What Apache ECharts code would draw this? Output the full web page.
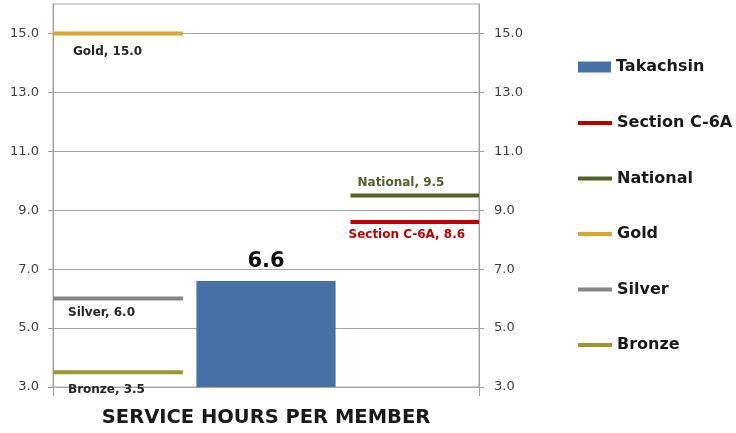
<!DOCTYPE html>
<html>
<head>
<meta charset="utf-8">
<script src="https://cdn.jsdelivr.net/npm/echarts@6/dist/echarts.min.js"></script>
<style>
  html, body { margin: 0; padding: 0; background: #fff; }
  #chart { width: 736px; height: 433px; }
</style>
</head>
<body>
<div id="chart"></div>
<script>
var categories = ['Benchmarks', 'Takachsin', 'Comparison'];
var takachsinValues = [null, 6.6, null];
var sectionValues = [null, null, 8.6];
var nationalValues = [null, null, 9.5];
var goldValues = [15.0, null, null];
var silverValues = [6.0, null, null];
var bronzeValues = [3.5, null, null];
var yTicks = [3, 5, 7, 9, 11, 13, 15];

var FONT = '"DejaVu Sans", Verdana, sans-serif';

// one short horizontal dash per benchmark, with its own label
function benchmarkSeries (name, values, color, labelColor, labelDx, labelDy) {
  return {
    name: name,
    type: 'custom',
    itemStyle: { color: color },
    data: values.map(function (v, i) { return v == null ? null : [i, v]; })
      .filter(function (d) { return d; }),
    renderItem: function (params, api) {
      var idx = api.value(0);
      var val = api.value(1);
      var pt = api.coord([idx, val]);
      var band = api.size([1, 0])[0];
      var x1, x2;
      if (idx === 0) {
        x1 = pt[0] - band / 2;
        x2 = x1 + band * 0.915;
      } else {
        x2 = pt[0] + band / 2;
        x1 = x2 - band * 0.905;
      }
      return {
        type: 'group',
        children: [
          {
            type: 'line',
            shape: { x1: x1, y1: pt[1], x2: x2, y2: pt[1] },
            style: { stroke: color, lineWidth: 4, lineCap: 'butt' }
          },
          {
            type: 'text',
            x: x1 + labelDx,
            y: pt[1] + labelDy,
            style: {
              text: name + ', ' + val.toFixed(1),
              fill: labelColor,
              fontSize: 12,
              fontWeight: 'bold',
              fontFamily: FONT,
              align: 'left',
              verticalAlign: 'middle'
            }
          }
        ]
      };
    }
  };
}

var chartDom = document.getElementById('chart');
var myChart = echarts.init(chartDom);
var option;

var yAxisBase = {
  type: 'value',
  min: 3,
  max: 16,
  interval: 2,
  axisLine: { show: true, lineStyle: { color: '#a0a0a0', width: 1 } },
  axisTick: { show: true, length: 5, customValues: yTicks, lineStyle: { color: '#a0a0a0' } },
  axisLabel: {
    customValues: yTicks,
    formatter: function (v) { return v.toFixed(1); },
    color: '#404040',
    fontSize: 13,
    fontFamily: FONT
  }
};

var legendText = { fontSize: 16, fontWeight: 'bold', fontFamily: FONT, color: '#1a1a1a', lineHeight: 20 };

option = {
  animation: false,
  grid: { left: 53, right: 257, top: 4, bottom: 46, show: true, borderColor: '#a6a6a6', borderWidth: 1 },
  legend: [
    {
      data: [{ name: 'Takachsin', icon: 'rect' }],
      left: 578,
      top: 57,
      padding: 0,
      itemWidth: 33,
      itemHeight: 11,
      textStyle: legendText
    },
    {
      data: ['Section C-6A', 'National', 'Gold', 'Silver', 'Bronze'].map(function (n) {
        return { name: n, icon: 'path://M0,0H36V4H0Z' };
      }),
      orient: 'vertical',
      left: 578,
      top: 113,
      padding: 0,
      itemGap: 35.5,
      itemWidth: 34,
      itemHeight: 4,
      textStyle: legendText
    }
  ],
  xAxis: {
    type: 'category',
    data: categories,
    name: 'SERVICE HOURS PER MEMBER',
    nameLocation: 'middle',
    nameGap: 21,
    nameTextStyle: { fontSize: 19.5, fontWeight: 'bold', fontFamily: FONT, color: '#1a1a1a' },
    axisLine: { show: true, lineStyle: { color: '#a6a6a6' } },
    axisTick: {
      show: true,
      length: 9,
      interval: function (i) { return i === 0; },
      lineStyle: { color: '#a0a0a0' }
    },
    axisLabel: { show: false }
  },
  yAxis: [
    Object.assign({}, yAxisBase, {
      position: 'left',
      axisLabel: Object.assign({}, yAxisBase.axisLabel, { margin: 14 }),
      splitLine: { show: true, lineStyle: { color: '#a6a6a6', width: 1 } }
    }),
    Object.assign({}, yAxisBase, {
      position: 'right',
      axisLabel: Object.assign({}, yAxisBase.axisLabel, { margin: 15 }),
      splitLine: { show: false }
    })
  ],
  series: [
    {
      name: 'Takachsin',
      type: 'bar',
      data: takachsinValues,
      barWidth: '98%',
      itemStyle: { color: '#4672a8' },
      label: {
        show: true,
        position: 'top',
        distance: 9,
        formatter: function (p) { return p.value.toFixed(1); },
        fontSize: 21,
        fontWeight: 'bold',
        fontFamily: FONT,
        color: '#111'
      }
    },
    benchmarkSeries('Section C-6A', sectionValues, '#c00000', '#c00000', -2, 12.5),
    benchmarkSeries('National', nationalValues, '#4f6228', '#4f6228', 7, -13),
    benchmarkSeries('Gold', goldValues, '#daa632', '#262626', 20, 18.5),
    benchmarkSeries('Silver', silverValues, '#858585', '#262626', 15, 14),
    benchmarkSeries('Bronze', bronzeValues, '#a09433', '#262626', 15, 17.5)
  ]
};

option && myChart.setOption(option);
</script>
</body>
</html>
